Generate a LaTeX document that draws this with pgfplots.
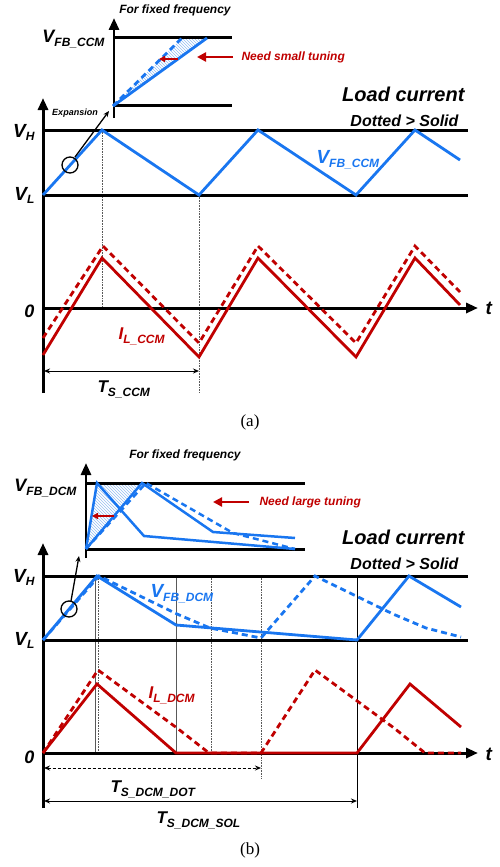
\documentclass[border=0pt]{standalone}
\usepackage{pgfplots}
\pgfplotsset{compat=1.18}
\usepackage{fontspec}
\setmainfont{Liberation Sans}
\newfontfamily\seriffont{Liberation Serif}
\usetikzlibrary{arrows.meta,patterns}
\definecolor{fbblue}{RGB}{25,118,240}
\definecolor{ilred}{RGB}{192,0,0}
\definecolor{hatchc}{RGB}{150,190,240}
\newcommand{\fs}[1]{\fontsize{#1}{#1}\selectfont\bfseries\itshape}
\newcommand{\sbx}[3]{\raisebox{-#2pt}{\fs{#1}#3}}
\begin{document}
\begin{tikzpicture}
\begin{axis}[scale only axis, width=500pt, height=867pt,
  xmin=0, xmax=500, ymin=0, ymax=867, y dir=reverse,
  hide axis, clip=false,
  blk/.style={black, line width=3pt},
  ax/.style={black, line width=3pt, -{Triangle[width=10pt,length=12pt]}},
  bl/.style={fbblue, line width=2.8pt},
  bld/.style={fbblue, line width=2.8pt, dash pattern=on 6pt off 4pt},
  rd/.style={ilred, line width=2.8pt},
  rdd/.style={ilred, line width=2.8pt, dash pattern=on 6pt off 4pt},
  guide/.style={black!65, line width=0.6pt},
  dguide/.style={black!65, line width=0.6pt, densely dotted},
  dim/.style={black, line width=1pt, {Stealth[length=6pt,width=5pt]}-{Stealth[length=6pt,width=5pt]}},
  every node/.append style={inner sep=0pt}]
\addplot[draw=none] coordinates {(0,0) (500,867)};

% ================= (a) =================
% inset
\addplot[draw=none, pattern=north west lines, pattern color=hatchc] coordinates {(113,106) (182,38) (207,38)} -- cycle;
\addplot[ax, line width=2.8pt] coordinates {(114,118) (114,18)};
\addplot[blk] coordinates {(114,38) (232,38)};
\addplot[blk] coordinates {(114,105) (232,105)};
\addplot[bl] coordinates {(113,106) (207,38)};
\addplot[bld] coordinates {(113,106) (182,38)};
\addplot[ilred, line width=1.5pt, -{Triangle[width=6pt,length=6pt]}] coordinates {(178,59) (159,59)};
\addplot[ilred, line width=2.6pt, -{Triangle[width=9pt,length=9pt]}] coordinates {(233,57) (197,57)};
% main
\addplot[dguide] coordinates {(102,130) (102,308)};
\addplot[dguide] coordinates {(199,195) (199,393)};
\addplot[blk] coordinates {(43,130) (468,130)};
\addplot[blk] coordinates {(43,195) (468,195)};
\addplot[ax] coordinates {(43,393) (43,98)};
\addplot[ax] coordinates {(43,308) (478,308)};
\addplot[bl] coordinates {(43,195) (102,130) (199,195) (258,130) (356,195) (415,130) (460,160)};
\addplot[rdd] coordinates {(43,338) (103,246) (199,343) (258,246) (356,343) (415,246) (460,292)};
\addplot[rd] coordinates {(43,355) (102,258) (199,357) (258,258) (356,357) (415,258) (460,305)};
\addplot[dim] coordinates {(44,371) (199,371)};
\addplot[only marks, mark=o, mark size=8pt, mark options={line width=1.3pt, black}] coordinates {(70,165)};
\addplot[black, line width=1.3pt, -{Stealth[length=6pt,width=5pt]}] coordinates {(75,157) (109,111)};

\node[anchor=base] at (axis cs:175,14) {\fs{12}For fixed frequency};
\node[anchor=base east] at (axis cs:108,43) {\fs{18}V\sbx{12}{4}{FB\_CCM}};
\node[anchor=west, text=ilred] at (axis cs:238,57) {\fs{12}Need small tuning};
\node at (axis cs:75,113) {\fs{9}Expansion};
\node[anchor=base east] at (axis cs:468,101) {\fs{20}Load current};
\node[anchor=base east] at (axis cs:462,126) {\fs{16}Dotted > Solid};
\node[anchor=base east] at (axis cs:38,137) {\fs{19}V\sbx{12}{3}{H}};
\node[anchor=base east] at (axis cs:38,200) {\fs{19}V\sbx{12}{3}{L}};
\node[anchor=base west, text=fbblue] at (axis cs:313,163) {\fs{19}V\sbx{12}{4}{FB\_CCM}};
\node[anchor=base east] at (axis cs:38,317) {\fs{18}0};
\node[anchor=base west] at (axis cs:482,314) {\fs{19}t};
\node[anchor=base west, text=ilred] at (axis cs:115,339) {\fs{17}I\sbx{12}{4}{L\_CCM}};
\node[anchor=base west] at (axis cs:94,392) {\fs{17}T\sbx{12}{4}{S\_CCM}};
\node at (axis cs:250,422) {\fontsize{17}{17}\selectfont\seriffont\mdseries\upshape (a)};

% ================= (b) =================
% inset
\addplot[draw=none, pattern=north west lines, pattern color=hatchc] coordinates {(86,549) (97,483) (142,483)} -- cycle;
\addplot[ax, line width=2.8pt] coordinates {(86,558) (86,463)};
\addplot[blk] coordinates {(86,483) (305,483)};
\addplot[blk] coordinates {(86,549) (305,549)};
\addplot[bl, line width=2.5pt] coordinates {(86,549) (97,483) (144,536) (295,549)};
\addplot[bl, line width=2.5pt] coordinates {(86,549) (142,483) (213,532) (295,538)};
\addplot[bld, line width=2.5pt] coordinates {(86,549) (146,483) (233,533) (295,549)};
\addplot[ilred, line width=1.5pt, -{Triangle[width=6pt,length=6pt]}] coordinates {(114,516) (92,516)};
\addplot[ilred, line width=2.6pt, -{Triangle[width=9pt,length=9pt]}] coordinates {(249,502) (213,502)};
% main
\addplot[guide] coordinates {(95,576) (95,753)};
\addplot[dguide] coordinates {(98,576) (98,753)};
\addplot[guide] coordinates {(176,576) (176,753)};
\addplot[dguide] coordinates {(211,576) (211,753)};
\addplot[dguide] coordinates {(261,576) (261,778)};
\addplot[black, line width=0.6pt] coordinates {(357,576) (357,808)};
\addplot[blk] coordinates {(43,576) (468,576)};
\addplot[blk] coordinates {(43,640) (468,640)};
\addplot[ax] coordinates {(43,808) (43,543)};
\addplot[ax] coordinates {(43,753) (478,753)};
\addplot[bld] coordinates {(43,640) (99,576) (177,614) (210,628) (261,638) (315,576) (393,614) (426,628) (461,637)};
\addplot[bl] coordinates {(43,640) (97,576) (176,625) (357,640) (409,576) (461,607)};
\addplot[rdd] coordinates {(43,753) (98,670) (177,728) (209,753) (261,753) (315,670) (394,728) (425,753) (461,753)};
\addplot[rd] coordinates {(43,753) (97,684) (176,753) (357,753) (410,684) (461,727)};
\addplot[dim, dash pattern=on 3pt off 2pt] coordinates {(44,768) (261,768)};
\addplot[dim] coordinates {(44,801) (357,801)};
\addplot[only marks, mark=o, mark size=8pt, mark options={line width=1.3pt, black}] coordinates {(69,609)};
\addplot[black, line width=1.3pt, -{Stealth[length=6pt,width=5pt]}] coordinates {(71,601) (79,556)};

\node at (axis cs:185,455) {\fs{12}For fixed frequency};
\node[anchor=base east] at (axis cs:80,491) {\fs{18}V\sbx{12}{4}{FB\_DCM}};
\node[anchor=west, text=ilred] at (axis cs:256,502) {\fs{12}Need large tuning};
\node[anchor=base east] at (axis cs:468,544) {\fs{20}Load current};
\node[anchor=base east] at (axis cs:462,569) {\fs{16}Dotted > Solid};
\node[anchor=base east] at (axis cs:38,582) {\fs{19}V\sbx{12}{3}{H}};
\node[anchor=base east] at (axis cs:38,645) {\fs{19}V\sbx{12}{3}{L}};
\node[anchor=base west, text=fbblue] at (axis cs:147,597) {\fs{19}V\sbx{12}{4}{FB\_DCM}};
\node[anchor=base west, text=ilred] at (axis cs:145,698) {\fs{17}I\sbx{12}{4}{L\_DCM}};
\node[anchor=base east] at (axis cs:38,763) {\fs{18}0};
\node[anchor=base west] at (axis cs:482,760) {\fs{19}t};
\node[anchor=base west] at (axis cs:107,792) {\fs{17}T\sbx{12}{4}{S\_DCM\_DOT}};
\node[anchor=base west] at (axis cs:153,823) {\fs{17}T\sbx{12}{4}{S\_DCM\_SOL}};
\node at (axis cs:250,850) {\fontsize{17}{17}\selectfont\seriffont\mdseries\upshape (b)};
\end{axis}
\end{tikzpicture}
\end{document}
